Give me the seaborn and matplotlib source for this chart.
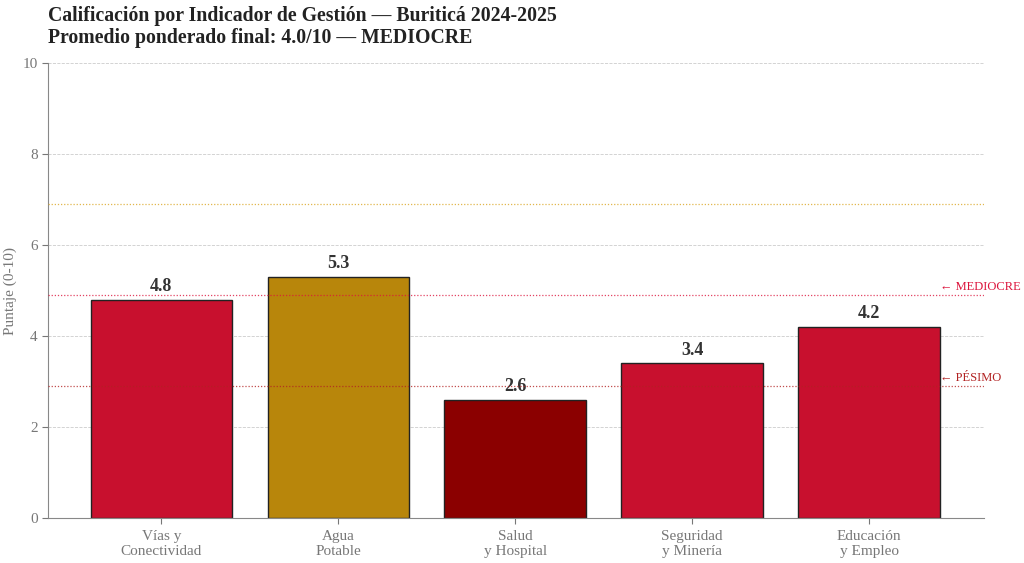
import matplotlib
matplotlib.use("Agg")
import matplotlib.pyplot as plt
import seaborn as sns
import pandas as pd

categorias = ["Vías y\nConectividad", "Agua\nPotable", "Salud\ny Hospital", "Seguridad\ny Minería", "Educación\ny Empleo"]
puntajes = [4.8, 5.3, 2.6, 3.4, 4.2]
colores = ["#C8102E", "#B8860B", "#8B0000", "#C8102E", "#C8102E"]
umbrales = [6.9, 4.9, 2.9]
umbral_colores = ["#DAA520", "#DC143C", "#B22222"]
umbral_textos = [None, "← MEDIOCRE", "← PÉSIMO"]

sns.set_style("white")
plt.rcParams['font.family'] = ['Liberation Serif', 'DejaVu Serif']

df = pd.DataFrame({"cat": categorias, "val": puntajes})
fig, ax = plt.subplots(figsize=(10.24, 5.63), dpi=100)
fig.subplots_adjust(left=0.047, right=0.961, top=0.888, bottom=0.08)

sns.barplot(data=df, x="cat", y="val", hue="cat", palette=colores, legend=False, saturation=1,
            width=0.8, edgecolor="#222222", linewidth=1.0, ax=ax, zorder=2)

for p, v in zip(ax.patches, puntajes):
    ax.text(p.get_x() + p.get_width() / 2, v + 0.1, f"{v:.1f}", ha="center", va="bottom",
            fontsize=13, fontweight="bold", color="#333333")

for u, c, t in zip(umbrales, umbral_colores, umbral_textos):
    ax.axhline(u, color=c, linestyle=(0, (1, 1.5)), linewidth=0.9, alpha=0.8, zorder=3)
    if t:
        ax.text(4.4, u + 0.17, t, color=c, fontsize=9, ha="left", va="center")

ax.set_ylim(0, 10)
ax.set_xlim(-0.64, 4.65)
ax.set_yticks([0, 2, 4, 6, 8, 10])
ax.yaxis.grid(True, color="#cccccc", linestyle="--", linewidth=0.6)
ax.set_axisbelow(True)
ax.set_xlabel("")
ax.set_ylabel("Puntaje (0-10)", fontsize=11, color="#777777")
ax.tick_params(axis="both", colors="#777777", labelsize=11, length=4, direction="out", left=True, bottom=True)
ax.tick_params(axis="x", pad=5)
for s in ["top", "right"]:
    ax.spines[s].set_visible(False)
for s in ["left", "bottom"]:
    ax.spines[s].set_color("#888888")

fig.text(0.047, 0.99, "Calificación por Indicador de Gestión — Buriticá 2024-2025\nPromedio ponderado final: 4.0/10 — MEDIOCRE",
         fontsize=14.2, fontweight="bold", color="#222222", ha="left", va="top", linespacing=1.15)

fig.savefig("out.png", dpi=100)
